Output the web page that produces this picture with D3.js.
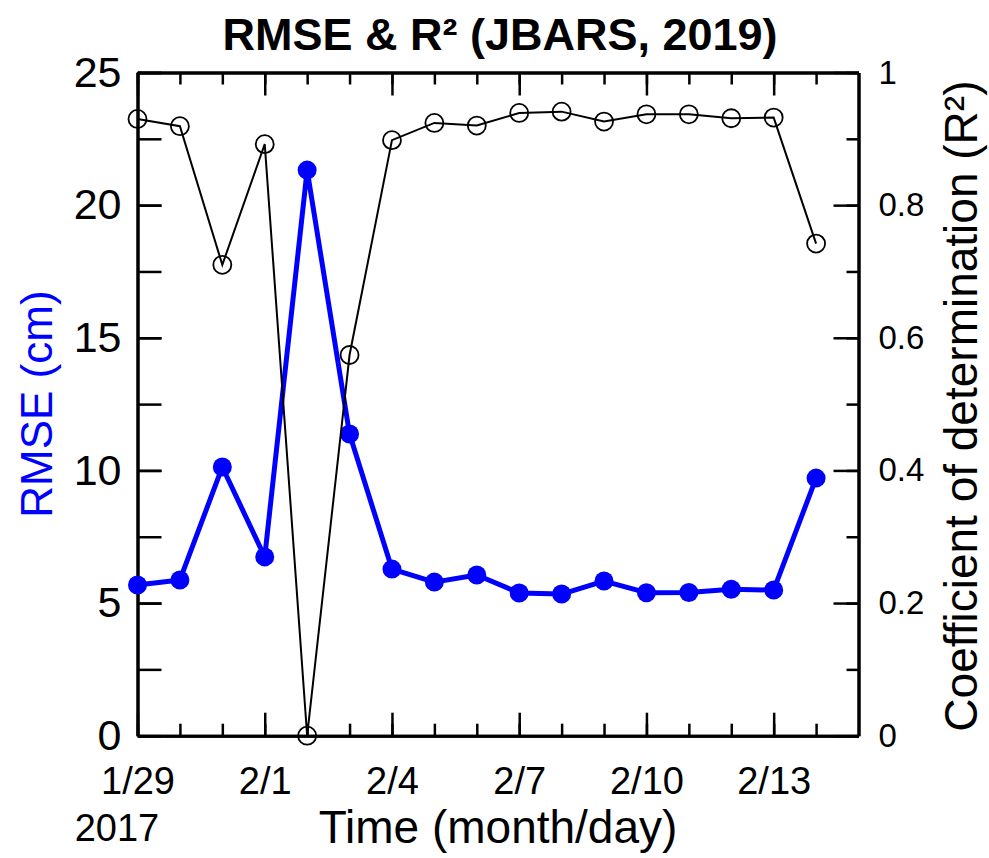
<!DOCTYPE html>
<meta charset="utf-8">
<head>
<title>RMSE & R2 (JBARS, 2019)</title>
</head>

<style>
body { margin: 0; background: #fff; }
svg text { font-family: "Liberation Sans", Arial, sans-serif; fill: #000; }
.axis path, .axis line { stroke: #000; }
</style>

<body>
<svg id="chart" width="989" height="858"></svg>

<script src="https://d3js.org/d3.v7.min.js"></script>
<script>

// daily values, 1/29 - 2/14 2017
var days = ['2017-01-29', '2017-01-30', '2017-01-31', '2017-02-01', '2017-02-02', '2017-02-03',
            '2017-02-04', '2017-02-05', '2017-02-06', '2017-02-07', '2017-02-08', '2017-02-09',
            '2017-02-10', '2017-02-11', '2017-02-12', '2017-02-13', '2017-02-14'];
var rmse = [5.68, 5.87, 10.13, 6.74, 21.32, 11.37, 6.28, 5.79, 6.06, 5.38, 5.34, 5.83,
            5.39, 5.40, 5.52, 5.49, 9.71];
var r2 = [0.930, 0.919, 0.710, 0.892, 0.000, 0.574, 0.898, 0.924, 0.920, 0.939, 0.941, 0.926,
          0.937, 0.937, 0.931, 0.932, 0.742];

var xTickLabels = ['1/29', '2/1', '2/4', '2/7', '2/10', '2/13'];
var rmseTicks = [0, 5, 10, 15, 20, 25];
var r2Ticks = [0, 0.2, 0.4, 0.6, 0.8, 1];

var parse = d3.utcParse('%Y-%m-%d');
var dates = days.map(parse);

// plot frame (window.top is taken, so prefix the names)
var pLeft = 137.5, pRight = 858.5, pTop = 72.5, pBottom = 735.7;

var svg = d3.select('#chart');

var x = d3.scaleUtc()
  .domain([parse('2017-01-29'), parse('2017-02-15')])
  .range([pLeft, pRight]);
var yL = d3.scaleLinear().domain([0, 25]).range([pBottom, pTop]);
var yR = d3.scaleLinear().domain([0, 1]).range([pBottom, pTop]);

// every 3rd day gets a long tick and a label
var majorDates = dates.filter(function(d, i) { return i % 3 === 0; });
var allDays = d3.utcDay.range(parse('2017-01-29'), parse('2017-02-15'));

function styleAxis(g, fontSize) {
  g.attr('class', 'axis');
  g.select('.domain').attr('stroke-width', 3);
  g.selectAll('.tick line').attr('stroke-width', 2.5);
  g.selectAll('.tick text').style('font-size', fontSize + 'px');
}

// --- bottom
svg.append('g')
  .attr('transform', 'translate(0,' + pBottom + ')')
  .call(d3.axisBottom(x).tickValues(allDays).tickSize(-12).tickSizeOuter(0).tickFormat(''))
  .call(styleAxis, 37);
svg.append('g')
  .attr('transform', 'translate(0,' + pBottom + ')')
  .call(d3.axisBottom(x).tickValues(majorDates).tickSize(-23).tickSizeOuter(0).tickPadding(31)
    .tickFormat(function(d, i) { return xTickLabels[i]; }))
  .call(styleAxis, 38);

// --- top
svg.append('g')
  .attr('transform', 'translate(0,' + pTop + ')')
  .call(d3.axisTop(x).tickValues(allDays).tickSize(-12).tickSizeOuter(0).tickFormat(''))
  .call(styleAxis, 37);
svg.append('g')
  .attr('transform', 'translate(0,' + pTop + ')')
  .call(d3.axisTop(x).tickValues(majorDates).tickSize(-23).tickSizeOuter(0).tickFormat(''))
  .call(styleAxis, 37);

// --- left (RMSE)
svg.append('g')
  .attr('transform', 'translate(' + pLeft + ',0)')
  .call(d3.axisLeft(yL).tickValues(d3.range(0, 25.1, 2.5)).tickSize(-24).tickSizeOuter(0).tickFormat(''))
  .call(styleAxis, 43);
svg.append('g')
  .attr('transform', 'translate(' + pLeft + ',0)')
  .call(d3.axisLeft(yL).tickValues(rmseTicks).tickSize(-24).tickSizeOuter(0).tickPadding(16)
    .tickFormat(function(d) { return String(d); }))
  .call(styleAxis, 43);

// --- right (R2)
svg.append('g')
  .attr('transform', 'translate(' + pRight + ',0)')
  .call(d3.axisRight(yR).tickValues(d3.range(0, 1.01, 0.1)).tickSize(-12).tickSizeOuter(0).tickFormat(''))
  .call(styleAxis, 33);
svg.append('g')
  .attr('transform', 'translate(' + pRight + ',0)')
  .call(d3.axisRight(yR).tickValues(r2Ticks).tickSize(-25).tickSizeOuter(0).tickPadding(20)
    .tickFormat(function(d) { return String(d); }))
  .call(styleAxis, 33);

// --- RMSE series (blue, filled dots)
var rmseData = dates.map(function(d, i) { return { date: d, v: rmse[i] }; });
svg.append('path')
  .datum(rmseData)
  .attr('fill', 'none')
  .attr('stroke', '#0000ff')
  .attr('stroke-width', 5)
  .attr('stroke-linejoin', 'round')
  .attr('d', d3.line().x(function(d) { return x(d.date); }).y(function(d) { return yL(d.v); }));
svg.append('g').selectAll('circle')
  .data(rmseData)
  .enter().append('circle')
  .attr('cx', function(d) { return x(d.date); })
  .attr('cy', function(d) { return yL(d.v); })
  .attr('r', 9.5)
  .attr('fill', '#0000ff');

// --- R2 series (black, open circles)
var r2Data = dates.map(function(d, i) { return { date: d, v: r2[i] }; });
svg.append('path')
  .datum(r2Data)
  .attr('fill', 'none')
  .attr('stroke', '#000')
  .attr('stroke-width', 2)
  .attr('d', d3.line().x(function(d) { return x(d.date); }).y(function(d) { return yR(d.v); }));
svg.append('g').selectAll('circle')
  .data(r2Data)
  .enter().append('circle')
  .attr('cx', function(d) { return x(d.date); })
  .attr('cy', function(d) { return yR(d.v); })
  .attr('r', 9)
  .attr('fill', 'none')
  .attr('stroke', '#000')
  .attr('stroke-width', 1.8);

// --- titles
svg.append('text')
  .attr('x', 500).attr('y', 50)
  .attr('text-anchor', 'middle')
  .style('font-size', '45px').style('font-weight', 'bold')
  .text('RMSE & R\u00b2 (JBARS, 2019)');

svg.append('text')
  .attr('x', 498).attr('y', 843)
  .attr('text-anchor', 'middle')
  .style('font-size', '46px')
  .text('Time (month/day)');

svg.append('text')
  .attr('x', 117).attr('y', 841)
  .attr('text-anchor', 'middle')
  .style('font-size', '38px')
  .text('2017');

svg.append('text')
  .attr('transform', 'translate(52,' + ((pTop + pBottom) / 2) + ') rotate(-90)')
  .attr('text-anchor', 'middle')
  .style('font-size', '44px')
  .style('fill', '#0000ff')
  .text('RMSE (cm)');

svg.append('text')
  .attr('transform', 'translate(977,' + ((pTop + pBottom) / 2 + 2) + ') rotate(-90)')
  .attr('text-anchor', 'middle')
  .style('font-size', '46px')
  .text('Coefficient of determination (R\u00b2)');

</script>
</body>
</html>
